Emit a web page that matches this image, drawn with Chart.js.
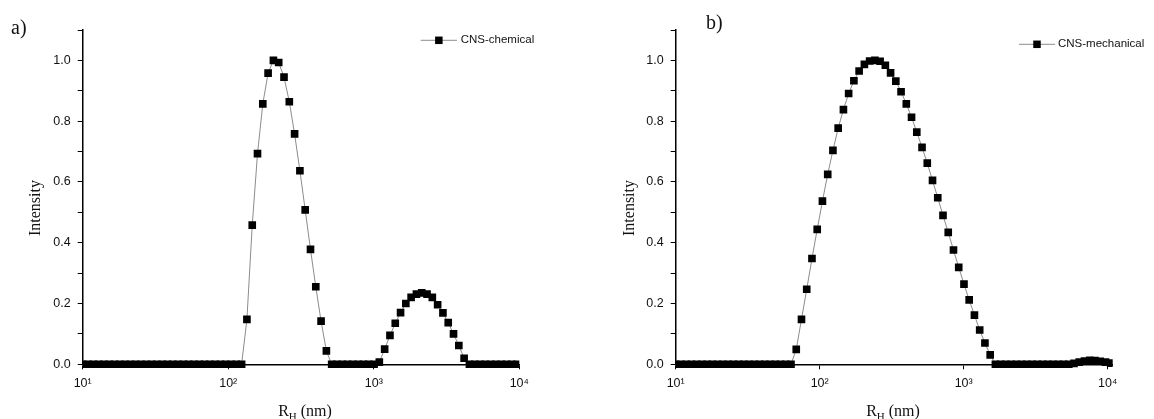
<!DOCTYPE html>
<html>
<head>
<meta charset="utf-8">
<script src="https://cdn.jsdelivr.net/npm/chart.js@4/dist/chart.umd.min.js"></script>
<style>
    html, body { margin: 0; padding: 0; background: #fff; }
    #wrap { position: relative; width: 1154px; height: 419px; overflow: hidden; }
    canvas { position: absolute; top: 0; }
    .txt { position: absolute; font-family: "Liberation Serif", "Times New Roman", serif; color: #111; white-space: nowrap; line-height: 1; }
    .panel { font-size: 20px; }
    .ytitle { font-size: 16px; transform: translate(-50%, -50%) rotate(-90deg); }
    .xtitle { font-size: 16px; transform: translateX(-50%); }
    .xtitle span { font-size: 11px; position: relative; top: 4px; }
</style>
</head>
<body>
<div id="wrap">
    <canvas id="chartA" width="577" height="419" style="left:0"></canvas>
    <canvas id="chartB" width="577" height="419" style="left:577px"></canvas>
    <div class="txt panel" style="left:11px; top:17px">a)</div>
    <div class="txt panel" style="left:706px; top:12px">b)</div>
    <div class="txt ytitle" style="left:35px; top:208px">Intensity</div>
    <div class="txt ytitle" style="left:629px; top:208px">Intensity</div>
    <div class="txt xtitle" style="left:305px; top:403px">R<span>H</span> (nm)</div>
    <div class="txt xtitle" style="left:893px; top:403px">R<span>H</span> (nm)</div>
</div>
<script>
// hydrodynamic radius grid (nm), shared by both measurements
const sizeNm = [
    10.0, 10.87, 11.83, 12.86, 13.98, 15.21, 16.54, 17.98, 19.55, 21.26,
    23.12, 25.14, 27.34, 29.73, 32.33, 35.16, 38.23, 41.57, 45.21, 49.16,
    53.46, 58.13, 63.21, 68.74, 74.75, 81.28, 88.39, 96.12, 104.5, 113.7,
    123.6, 134.4, 146.2, 158.9, 172.8, 187.9, 204.4, 222.2, 241.7, 262.8,
    285.8, 310.8, 337.9, 367.5, 399.6, 434.5, 472.5, 513.8, 558.7, 607.6,
    660.7, 718.5, 781.3, 849.6, 923.9, 1005, 1092, 1188, 1292, 1405,
    1528, 1661, 1806, 1964, 2136, 2323, 2526, 2747, 2987, 3248,
    3532, 3841, 4177, 4542, 4939, 5370, 5840, 6350, 6905, 7509,
    8166, 8880, 9656, 10500
];

const chemicalIntensity = [
    0, 0, 0, 0, 0, 0, 0, 0, 0, 0,
    0, 0, 0, 0, 0, 0, 0, 0, 0, 0,
    0, 0, 0, 0, 0, 0, 0, 0, 0, 0,
    0, 0.148, 0.458, 0.693, 0.857, 0.958, 1.0, 0.993, 0.945, 0.864,
    0.758, 0.637, 0.508, 0.378, 0.255, 0.142, 0.044, 0, 0, 0,
    0, 0, 0, 0, 0, 0, 0.007, 0.05, 0.095, 0.135,
    0.17, 0.2, 0.22, 0.231, 0.235, 0.231, 0.22, 0.196, 0.169, 0.137,
    0.1, 0.062, 0.02, 0, 0, 0, 0, 0, 0, 0,
    0, 0, 0
];

const mechanicalIntensity = [
    0, 0, 0, 0, 0, 0, 0, 0, 0, 0,
    0, 0, 0, 0, 0, 0, 0, 0, 0, 0,
    0, 0, 0, 0.049, 0.148, 0.247, 0.348, 0.444, 0.537, 0.625,
    0.704, 0.777, 0.838, 0.891, 0.933, 0.965, 0.987, 0.998, 1.0, 0.997,
    0.984, 0.959, 0.932, 0.897, 0.857, 0.813, 0.764, 0.714, 0.662, 0.605,
    0.548, 0.49, 0.434, 0.376, 0.319, 0.264, 0.212, 0.162, 0.113, 0.07,
    0.031, 0, 0, 0, 0, 0, 0, 0, 0, 0,
    0, 0, 0, 0, 0, 0, 0.003, 0.007, 0.011, 0.013,
    0.012, 0.01, 0.007, 0.004
];

const xTickValues = [10, 100, 1000, 10000];
const xTickLabels = ["10\u00B9", "10\u00B2", "10\u00B3", "10\u2074"];
const yTickLabels = ["0.0", "0.2", "0.4", "0.6", "0.8", "1.0"];

const tickFont = { family: '"Liberation Sans", Arial, sans-serif', size: 12.5 };

// little legend drawn inside the plot, like the Origin one
const insetLegend = {
    id: "insetLegend",
    afterDraw: (chart, args, opts) => {
        const ctx = chart.ctx;
        const ds = chart.data.datasets[0];
        ctx.save();
        ctx.strokeStyle = ds.borderColor;
        ctx.lineWidth = 1;
        ctx.beginPath();
        ctx.moveTo(opts.x0, opts.y);
        ctx.lineTo(opts.x1, opts.y);
        ctx.stroke();
        const mx = (opts.x0 + opts.x1) / 2;
        ctx.fillStyle = "#000";
        ctx.fillRect(mx - 3.75, opts.y - 3.75, 7.5, 7.5);
        ctx.font = '11.5px "Liberation Sans", Arial, sans-serif';
        ctx.fillStyle = "#111";
        ctx.textBaseline = "middle";
        ctx.fillText(ds.label, opts.tx, opts.y);
        ctx.restore();
    },
};

const makeChart = (id, label, values, xMax, padding, legendPos) => {
    const ctx = document.getElementById(id).getContext("2d");
    const points = values.map((v, i) => ({ x: sizeNm[i], y: v }));
    return new Chart(ctx, {
        type: "scatter",
        data: {
            datasets: [
                {
                    label: label,
                    data: points,
                    showLine: true,
                    borderColor: "#8c8c8c",
                    borderWidth: 1,
                    pointStyle: "rect",
                    pointRadius: 5.4,
                    pointBorderWidth: 0,
                    pointBackgroundColor: "#000",
                    clip: { left: 0, top: 8, right: 0, bottom: 6 },
                },
            ],
        },
        options: {
            responsive: false,
            animation: false,
            devicePixelRatio: 1,
            layout: { padding: padding },
            plugins: {
                legend: { display: false },
                tooltip: { enabled: false },
                insetLegend: legendPos,
            },
            scales: {
                x: {
                    type: "logarithmic",
                    min: 10,
                    max: xMax,
                    afterBuildTicks: (scale) => {
                        scale.ticks = xTickValues.map((v) => ({ value: v }));
                    },
                    afterFit: (scale) => {
                        scale.height = 30;
                    },
                    ticks: {
                        autoSkip: false,
                        maxRotation: 0,
                        padding: 7,
                        color: "#111",
                        font: tickFont,
                        callback: (value, index) => xTickLabels[index],
                    },
                    grid: { drawOnChartArea: false, tickLength: 5, color: "#000", lineWidth: 1 },
                    border: { color: "#000", width: 1.5 },
                },
                y: {
                    min: 0,
                    max: 1.1,
                    afterFit: (scale) => {
                        scale.width = 40;
                    },
                    ticks: {
                        stepSize: 0.1,
                        autoSkip: false,
                        padding: 7,
                        color: "#111",
                        font: tickFont,
                        callback: (value, index) => (index % 2 === 0 ? yTickLabels[index / 2] || "" : ""),
                    },
                    grid: { drawOnChartArea: false, tickLength: 5, color: "#000", lineWidth: 1 },
                    border: { color: "#000", width: 1.5 },
                },
            },
        },
        plugins: [insetLegend],
    });
};

makeChart("chartA", "CNS-chemical", chemicalIntensity, 10000,
    { left: 42.7, right: 57.7, top: 30, bottom: 24.7 },
    { x0: 420.7, x1: 457, y: 40.3, tx: 460.7 });

makeChart("chartB", "CNS-mechanical", mechanicalIntensity, 10840,
    { left: 58.7, right: 41.3, top: 30, bottom: 24.7 },
    { x0: 442, x1: 478, y: 44.3, tx: 481 });
</script>
</body>
</html>
